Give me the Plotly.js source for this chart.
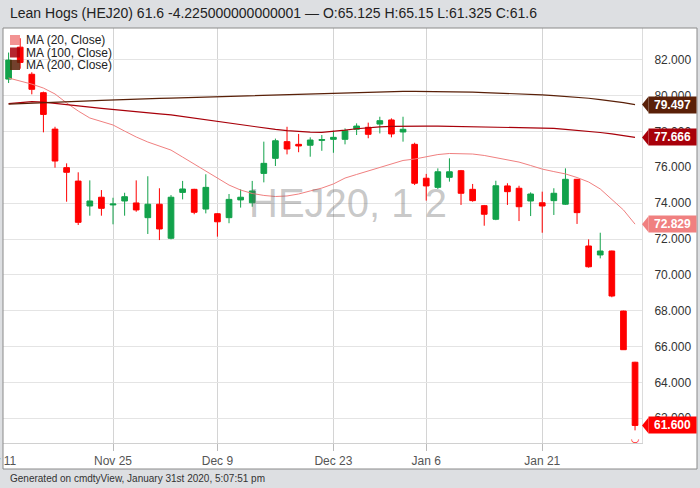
<!DOCTYPE html>
<html>
<head>
<meta charset="utf-8">
<script src="https://cdn.plot.ly/plotly-3.0.1.min.js"></script>
<style>
html,body{margin:0;padding:0;background:#dddfe2;}
#chart{width:700px;height:488px;}
</style>
</head>
<body>
<div id="chart"></div>
<script>
// ---- data ----
const dates = [
 '2019-11-12','2019-11-13','2019-11-14','2019-11-15','2019-11-18','2019-11-19','2019-11-20','2019-11-21','2019-11-22','2019-11-25','2019-11-26','2019-11-27','2019-11-29',
 '2019-12-02','2019-12-03','2019-12-04','2019-12-05','2019-12-06','2019-12-09','2019-12-10','2019-12-11','2019-12-12','2019-12-13','2019-12-16','2019-12-17','2019-12-18','2019-12-19','2019-12-20','2019-12-23','2019-12-24','2019-12-26','2019-12-27','2019-12-30','2019-12-31',
 '2020-01-02','2020-01-03','2020-01-06','2020-01-07','2020-01-08','2020-01-09','2020-01-10','2020-01-13','2020-01-14','2020-01-15','2020-01-16','2020-01-17','2020-01-21','2020-01-22','2020-01-23','2020-01-24','2020-01-27','2020-01-28','2020-01-29','2020-01-30','2020-01-31'
];
const openP = [80.92,82.70,81.19,80.16,78.13,75.98,75.23,73.84,74.33,73.90,74.12,74.01,73.19,
 73.94,72.04,74.60,74.77,73.67,73.41,73.19,74.18,74.02,75.66,76.50,77.43,77.28,77.23,77.50,77.56,77.56,78.12,78.23,78.41,78.64,
 77.97,77.28,75.39,74.88,75.44,75.81,74.77,73.86,73.10,74.96,74.83,74.12,74.02,74.14,73.94,75.33,71.61,71.11,71.33,67.98,65.125];
const highP = [82.40,83.20,81.30,80.22,78.26,76.22,75.72,75.27,74.73,74.30,74.58,75.27,75.50,
 74.83,74.45,75.24,74.80,75.61,73.45,74.51,74.77,75.24,77.43,77.60,78.26,77.86,77.67,77.80,78.04,78.17,78.45,78.49,78.82,78.73,
 78.82,77.37,75.63,75.94,76.50,75.85,75.07,73.90,75.25,75.11,74.97,74.60,74.64,74.83,75.94,75.35,71.98,72.35,71.35,68.00,65.15];
const lowP = [80.70,81.50,80.07,77.95,75.98,74.08,72.78,73.30,73.30,72.82,73.30,73.52,72.28,
 71.94,71.98,74.21,73.38,73.43,72.13,72.88,73.75,73.80,75.16,76.07,76.72,76.84,76.59,76.92,76.81,77.28,77.80,77.62,77.89,77.67,
 77.43,75.01,74.14,74.79,75.20,73.90,74.08,72.74,73.05,73.90,73.00,73.28,72.35,73.34,73.90,72.84,70.40,70.92,68.75,65.82,61.325];
const closeP = [81.98,81.85,80.35,78.95,76.35,75.72,72.93,74.12,73.71,73.95,74.36,73.62,73.94,
 72.56,74.33,74.79,73.49,74.88,72.96,74.21,74.33,74.68,76.22,77.48,77.02,77.19,77.52,77.55,77.67,78.04,78.30,77.84,78.60,77.86,
 78.12,75.11,74.96,75.75,75.75,74.55,74.14,73.38,74.97,74.64,73.80,74.51,73.84,74.55,75.33,73.47,70.45,71.33,68.82,65.825,61.6];
const ma20 = [80.98,80.81,80.64,80.42,80.09,79.59,79.14,78.75,78.55,78.36,78.02,77.69,77.41,77.19,76.96,76.57,76.18,75.79,75.40,75.01,
 74.73,74.54,74.43,74.37,74.40,74.51,74.68,74.84,75.07,75.40,75.60,75.79,75.99,76.18,76.38,76.46,76.60,76.71,76.77,76.77,
 76.74,76.66,76.55,76.43,76.29,76.10,75.90,75.76,75.63,75.43,75.18,74.79,74.23,73.62,72.829];
const ma100 = [79.55,79.62,79.66,79.64,79.58,79.50,79.43,79.36,79.29,79.22,79.16,79.10,79.04,78.98,78.92,78.83,78.73,78.63,78.53,78.43,
 78.34,78.26,78.18,78.11,78.05,78.00,77.96,77.95,77.99,78.07,78.15,78.21,78.25,78.28,78.30,78.30,78.30,78.30,78.29,78.28,
 78.27,78.26,78.25,78.24,78.23,78.22,78.20,78.17,78.12,78.07,78.01,77.94,77.86,77.77,77.666];
const ma200 = [79.52,79.54,79.56,79.58,79.61,79.64,79.67,79.70,79.73,79.76,79.78,79.80,79.82,79.84,79.86,79.88,79.90,79.92,79.94,79.96,
 79.98,80.00,80.02,80.04,80.06,80.08,80.10,80.12,80.14,80.16,80.18,80.20,80.21,80.22,80.23,80.23,80.23,80.22,80.21,80.20,
 80.19,80.17,80.15,80.13,80.10,80.07,80.04,80.00,79.96,79.91,79.85,79.78,79.70,79.61,79.497];
const tickDates = ['2019-11-25','2019-12-09','2019-12-23','2020-01-06','2020-01-21'];
const tickText = ['Nov 25','Dec 9','Dec 23','Jan 6','Jan 21'];
const edgeTickText = 'Nov 11';
const yTicks = [62,64,66,68,70,72,74,76,78,80,82];
const maNames = ['MA (20, Close)','MA (100, Close)','MA (200, Close)'];

// ---- styles ----
const FONT = 'Liberation Sans, Arial, Helvetica, sans-serif';
const UP = '#12a24b', DOWN = '#ff0000';
const C20 = '#f08080', C100 = '#a8000a', C200 = '#5a2008';
const L = 3, R = 58, T = 28, B = 45, W = 700, H = 488;
const pw = W - L - R, ph = H - T - B;
const px = v => (v - L) / pw;          // pixel -> paper x
const py = v => (H - B - v) / ph;      // pixel -> paper y
const xRange = [-0.483, 54.6];
const unitPx = ph / (83.77 - 60.62);

const xs = dates.map((d, i) => i);
const tickVals = tickDates.map(d => dates.indexOf(d));
const last = dates.length - 1;
// paper x of the (off-range) day before the first candle
const edgeTickPaper = (-1 - xRange[0]) / (xRange[1] - xRange[0]);

const traces = [
  {type:'candlestick', x:xs, open:openP, high:highP, low:lowP, close:closeP, text:dates,
   increasing:{line:{color:UP, width:1}, fillcolor:UP},
   decreasing:{line:{color:DOWN, width:1}, fillcolor:DOWN},
   whiskerwidth:0, showlegend:false, hoverinfo:'skip'},
  {type:'scatter', mode:'lines', x:xs, y:ma20, line:{color:C20, width:1}, showlegend:false, hoverinfo:'skip'},
  {type:'scatter', mode:'lines', x:xs, y:ma100, line:{color:C100, width:1.2}, showlegend:false, hoverinfo:'skip'},
  {type:'scatter', mode:'lines', x:xs, y:ma200, line:{color:C200, width:1.2}, showlegend:false, hoverinfo:'skip'}
];

const shapes = [
  {type:'rect', xref:'paper', yref:'paper', x0:px(3), x1:px(697), y0:py(469), y1:py(28),
   fillcolor:'#ffffff', line:{width:0}, layer:'below'},
  {type:'rect', xref:'paper', yref:'paper', x0:px(3), x1:px(697), y0:py(469), y1:py(28),
   fillcolor:'rgba(0,0,0,0)', line:{color:'#8a8a8a', width:1}, layer:'above'}
];
const annotations = [
  {xref:'paper', yref:'paper', x:px(8), y:py(13), xanchor:'left', yanchor:'middle', showarrow:false,
   text:'Lean Hogs (HEJ20) 61.6 -4.225000000000001 — O:65.125 H:65.15 L:61.325 C:61.6',
   font:{family:FONT, size:14, color:'#222'}},
  {xref:'paper', yref:'paper', x:px(8), y:py(478), xanchor:'left', yanchor:'middle', showarrow:false,
   text:'Generated on cmdtyView, January 31st 2020, 5:07:51 pm', font:{family:FONT, size:10, color:'#333'}},
  {xref:'paper', yref:'paper', x:px(348), y:py(203), xanchor:'center', yanchor:'middle', showarrow:false,
   text:'HEJ20, 1 2', font:{family:FONT, size:40, color:'rgba(100,100,100,0.36)'}},
  {xref:'paper', yref:'paper', x:edgeTickPaper, y:py(461), xanchor:'center', yanchor:'middle', showarrow:false,
   text:edgeTickText, font:{family:FONT, size:12, color:'#555'}},
  {xref:'x', yref:'y', x:last, y:lowP[last], xanchor:'center', yanchor:'top', yshift:-1, showarrow:false,
   text:'◡', font:{family:'DejaVu Sans', size:10, color:DOWN}}
];

// legend
const legColors = [C20, C100, C200];
const legY = [40, 52.5, 65];
maNames.forEach((n, i) => {
  shapes.push({type:'rect', xref:'paper', yref:'paper', x0:px(10), x1:px(20), y0:py(legY[i]+5), y1:py(legY[i]-5),
    fillcolor:legColors[i], opacity:0.85, line:{width:0}, layer:'above'});
  annotations.push({xref:'paper', yref:'paper', x:px(24), y:py(legY[i]), xanchor:'left', yanchor:'middle',
    showarrow:false, text:n, font:{family:FONT, size:12, color:'#222'}});
});

// value tags on right axis
const tags = [[ma200[last], C200], [ma100[last], C100], [ma20[last], C20], [closeP[last], DOWN]];
const half = 8 / unitPx;
tags.forEach(([v, c]) => {
  shapes.push({type:'path', xref:'paper', yref:'y',
    path:`M ${px(642)},${v} L ${px(648.5)},${v+half} L ${px(648.5)},${v-half} Z`,
    fillcolor:c, line:{width:0}, layer:'above'});
  annotations.push({xref:'paper', yref:'y', x:px(648), y:v, xanchor:'left', yanchor:'middle', showarrow:false,
    text:'<b>' + v.toFixed(3) + '</b>', bgcolor:c, width:45, height:14, borderpad:1, align:'center',
    font:{family:FONT, size:12, color:'#ffffff'}});
});

const layout = {
  width:W, height:H,
  margin:{l:L, r:R, t:T, b:B, pad:0},
  paper_bgcolor:'#dddfe2', plot_bgcolor:'rgba(0,0,0,0)',
  showlegend:false, hovermode:false, dragmode:false,
  font:{family:FONT, size:12, color:'#333'},
  xaxis:{type:'linear', range:xRange, tickmode:'array', tickvals:tickVals, ticktext:tickText,
    showgrid:true, gridcolor:'#d4d4d4', gridwidth:1, zeroline:false,
    ticks:'outside', ticklen:7, tickcolor:'#bbbbbb', showline:true, linecolor:'#d0d0d0',
    tickfont:{family:FONT, size:12, color:'#555'}, rangeslider:{visible:false}, fixedrange:true},
  yaxis:{range:[60.62, 83.77], side:'right', tickmode:'array', tickvals:yTicks,
    ticktext:yTicks.map(v => v.toFixed(3)),
    showgrid:true, gridcolor:'#e4e4e4', gridwidth:1, zeroline:false,
    ticks:'outside', ticklen:9, tickcolor:'rgba(0,0,0,0)', showline:true, linecolor:'#dcdcdc',
    tickfont:{family:FONT, size:12, color:'#333'}, fixedrange:true},
  shapes:shapes, annotations:annotations
};

Plotly.newPlot('chart', traces, layout, {displayModeBar:false, staticPlot:true});
</script>
</body>
</html>
